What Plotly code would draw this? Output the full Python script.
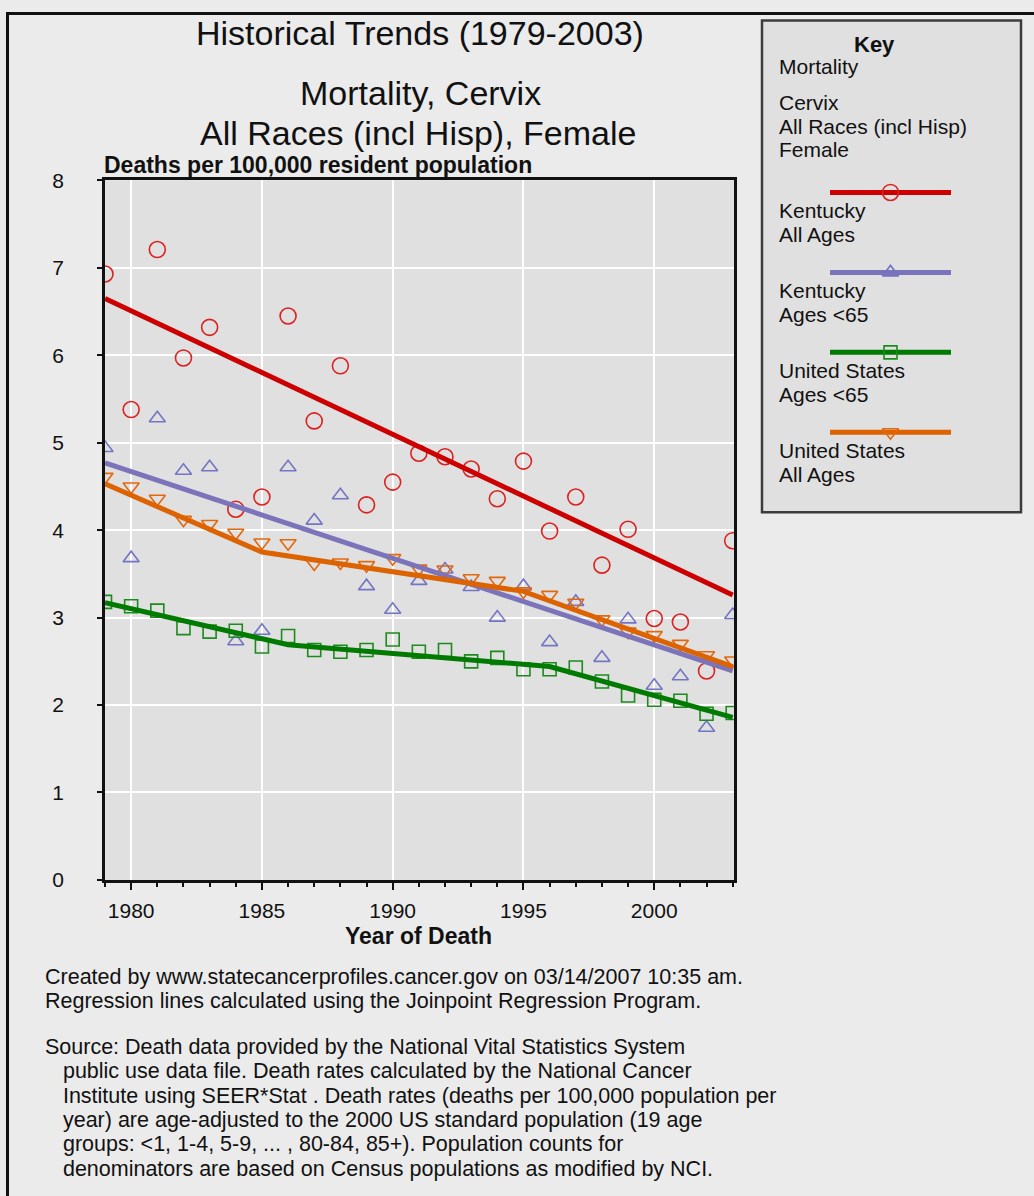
import plotly.graph_objects as go

# The photographed page maps page-y to picture-y as  pic = 12.4 + 0.9817 * page.
# Layout positions below are given in picture pixels and converted back.
SHIFT, SCALE = 12.4, 0.9817
W, H = 1034, 1206

# ---------------- data ----------------
years = list(range(1979, 2004))
ky_all = [6.93, 5.38, 7.21, 5.97, 6.32, 4.24, 4.38, 6.45, 5.25, 5.88, 4.29, 4.55, 4.88,
          4.84, 4.70, 4.36, 4.79, 3.99, 4.38, 3.60, 4.01, 2.99, 2.95, 2.39, 3.88]
ky_u65 = [4.94, 3.68, 5.28, 4.68, 4.72, 2.73, 2.85, 4.72, 4.11, 4.40, 3.36, 3.09, 3.42,
          3.55, 3.35, 3.00, 3.36, 2.72, 3.18, 2.54, 2.98, 2.22, 2.33, 1.74, 3.03]
us_u65 = [3.18, 3.13, 3.08, 2.88, 2.84, 2.85, 2.67, 2.79, 2.63, 2.61, 2.63, 2.75, 2.61,
          2.63, 2.50, 2.54, 2.41, 2.41, 2.43, 2.27, 2.11, 2.06, 2.05, 1.90, 1.91]
us_all = [4.61, 4.50, 4.36, 4.12, 4.07, 3.97, 3.86, 3.85, 3.62, 3.63, 3.60, 3.68, 3.56,
          3.55, 3.45, 3.42, 3.30, 3.26, 3.17, 2.98, 2.84, 2.80, 2.70, 2.57, 2.51]

# Joinpoint regression lines (joinpoint years and fitted values)
ky_all_fit_x = [1979, 2003]
ky_all_fit_y = [6.65, 3.26]
ky_u65_fit_x = [1979, 2003]
ky_u65_fit_y = [4.77, 2.39]
us_u65_fit_x = [1979, 1986, 1996, 2003]
us_u65_fit_y = [3.17, 2.69, 2.44, 1.86]
us_all_fit_x = [1979, 1985, 1995, 2003]
us_all_fit_y = [4.53, 3.75, 3.30, 2.44]

x_ticks = [1980, 1985, 1990, 1995, 2000]
y_ticks = [0, 1, 2, 3, 4, 5, 6, 7, 8]

series = [
    (["Kentucky", "All Ages"], "circle-open", "#dd2020", "#cc0000", ky_all, ky_all_fit_x, ky_all_fit_y, 16),
    (["Kentucky", "Ages <65"], "triangle-up-open", "#7474c4", "#7b74bb", ky_u65, ky_u65_fit_x, ky_u65_fit_y, 14),
    (["United States", "Ages <65"], "square-open", "#1c8a1c", "#007a00", us_u65, us_u65_fit_x, us_u65_fit_y, 13),
    (["United States", "All Ages"], "triangle-down-open", "#e2680f", "#dd6200", us_all, us_all_fit_x, us_all_fit_y, 14),
]

FONT = "Liberation Sans, Arial, sans-serif"


def px(x):
    return x / W


def fy_pix(y):
    return (y - SHIFT) / SCALE


def py(y):
    return 1 - fy_pix(y) / H


fig = go.Figure()

# markers first
for names, sym, mcol, lcol, vals, fx, fy, msize in series:
    fig.add_trace(go.Scatter(
        x=years, y=vals, mode="markers",
        marker=dict(symbol=sym, size=msize, color=mcol, line=dict(width=1.6, color=mcol)),
        xaxis="x", yaxis="y", hoverinfo="x+y", name=" ".join(names)))

# regression lines on top
for idx in [1, 0, 2, 3]:
    names, sym, mcol, lcol, vals, fx, fy, msize = series[idx]
    fig.add_trace(go.Scatter(
        x=fx, y=fy, mode="lines", line=dict(color=lcol, width=5),
        xaxis="x", yaxis="y", hoverinfo="skip", name=" ".join(names) + " trend"))

# key (legend) samples on their own hidden axes, in picture pixel units
key_line_y = [193, 273, 353, 433]
for (names, sym, mcol, lcol, vals, fx, fy, msize), ly in zip(series, key_line_y):
    fig.add_trace(go.Scatter(
        x=[830, 951], y=[ly, ly], mode="lines", line=dict(color=lcol, width=5),
        xaxis="x2", yaxis="y2", hoverinfo="skip", showlegend=False))
    fig.add_trace(go.Scatter(
        x=[890.5], y=[ly], mode="markers",
        marker=dict(symbol=sym, size=msize, color=mcol, line=dict(width=1.6, color=mcol)),
        xaxis="x2", yaxis="y2", hoverinfo="skip", showlegend=False))

annotations = []


def esc(s):
    return s.replace("&", "&amp;").replace("<", "&lt;")


def text(x, y, lines, size, bold=False, anchor="left", spacing=None, color="#111111"):
    """y = vertical centre of the block; lines are `spacing` px apart."""
    if isinstance(lines, str):
        lines = [lines]
    body = [esc(l) for l in lines]
    if bold:
        body = ["<b>" + b + "</b>" for b in body]
    if len(lines) > 1:
        base = spacing / 1.3
        s = "<br>".join('<span style="font-size:%gpx">%s</span>' % (size, b) for b in body)
    else:
        base = size
        s = body[0]
    annotations.append(dict(x=px(x), y=py(y), xref="paper", yref="paper", text=s,
                            showarrow=False, xanchor=anchor, yanchor="middle", align="left",
                            borderpad=0,
                            font=dict(family=FONT, size=base, color=color)))


# titles
text(420, 33, "Historical Trends (1979-2003)", 34, anchor="center")
text(420, 93, "Mortality, Cervix", 34, anchor="center")
text(418, 133, "All Races (incl Hisp), Female", 34, anchor="center")
text(103, 166, "Deaths per 100,000 resident population", 23, bold=True)
text(418, 937, "Year of Death", 23, bold=True, anchor="center")

# footnotes
NB = "\u00a0\u00a0\u00a0"
text(44, 990.5, ["Created by www.statecancerprofiles.cancer.gov on 03/14/2007 10:35 am.",
                 "Regression lines calculated using the Joinpoint Regression Program."],
     21.5, spacing=24.3)
text(44, 1109.5, ["Source: Death data provided by the National Vital Statistics System",
                  NB + "public use data file. Death rates calculated by the National Cancer",
                  NB + "Institute using SEER*Stat . Death rates (deaths per 100,000 population per",
                  NB + "year) are age-adjusted to the 2000 US standard population (19 age",
                  NB + "groups: <1, 1-4, 5-9, ... , 80-84, 85+). Population counts for",
                  NB + "denominators are based on Census populations as modified by NCI."],
     21.5, spacing=24.3)

# key texts
text(874, 45, "Key", 22, bold=True, anchor="center")
text(778, 67, "Mortality", 21)
text(778, 126, ["Cervix", "All Races (incl Hisp)", "Female"], 21, spacing=23.5)
key_text_y = [223, 303, 383, 463]
for (names, *_), ty in zip(series, key_text_y):
    text(778, ty, names, 21, spacing=23.5)

shapes = [
    # key box
    dict(type="rect", xref="paper", yref="paper", x0=px(762), x1=px(1021), y0=py(513), y1=py(21),
         line=dict(color="#3c3c3c", width=2.5), fillcolor="rgba(0,0,0,0)", layer="above"),
    # page frame (top and left edges)
    dict(type="line", xref="paper", yref="paper", x0=px(6), x1=px(1040), y0=1 - 1.5 / H, y1=1 - 1.5 / H,
         line=dict(color="#111111", width=3)),
    dict(type="line", xref="paper", yref="paper", x0=px(7.5), x1=px(7.5), y0=1, y1=-0.05,
         line=dict(color="#111111", width=3)),
]

fig.update_layout(
    width=W, height=H, autosize=False,
    margin=dict(l=0, r=0, t=0, b=0),
    paper_bgcolor="#ebebeb", plot_bgcolor="#e0e0e0",
    showlegend=False,
    font=dict(family=FONT, size=20, color="#111111"),
    xaxis=dict(domain=[px(105), px(734)], range=[1979, 2003.05],
               tickmode="array", tickvals=x_ticks, ticktext=[str(v) for v in x_ticks],
               ticks="outside", ticklen=7, tickwidth=1.5, tickcolor="#111111",
               ticklabelstandoff=3,
               tickfont=dict(size=21, family=FONT, color="#111111"),
               showgrid=True, gridcolor="#ffffff", gridwidth=2,
               minor=dict(dtick=1, tick0=1979, ticks="outside", ticklen=4, tickwidth=1.5,
                          tickcolor="#111111", showgrid=False),
               showline=True, linecolor="#111111", linewidth=2.5, mirror=True,
               zeroline=False, fixedrange=True, anchor="y"),
    yaxis=dict(domain=[py(881), py(181)], range=[0, 8],
               tickmode="array", tickvals=y_ticks, ticktext=[str(v) for v in y_ticks],
               ticks="outside", ticklen=5, tickwidth=1.5, tickcolor="#111111",
               ticklabelstandoff=29,
               tickfont=dict(size=21, family=FONT, color="#111111"),
               showgrid=True, gridcolor="#ffffff", gridwidth=2,
               showline=True, linecolor="#111111", linewidth=2.5, mirror=True,
               zeroline=False, fixedrange=True, anchor="x"),
    xaxis2=dict(domain=[px(762), px(1021)], range=[762, 1021], visible=False,
                showgrid=False, zeroline=False, anchor="y2", fixedrange=True),
    yaxis2=dict(domain=[py(513), py(21)], range=[fy_pix(513) * SCALE + SHIFT, fy_pix(21) * SCALE + SHIFT],
                visible=False, showgrid=False, zeroline=False, anchor="x2", fixedrange=True),
    annotations=annotations,
    shapes=shapes,
)

# pin the figure to the top-left corner of the page (no body margin, no scrollbars)
pin = ("document.body.style.margin='0';document.body.style.overflow='hidden';"
       "document.body.style.background='#ffffff';"
       "var d=document.getElementById('{plot_id}');d.style.position='absolute';"
       "d.style.left='0px';d.style.top='0px';")

fig.write_html("out.html", config=dict(displayModeBar=False), post_script=pin)
